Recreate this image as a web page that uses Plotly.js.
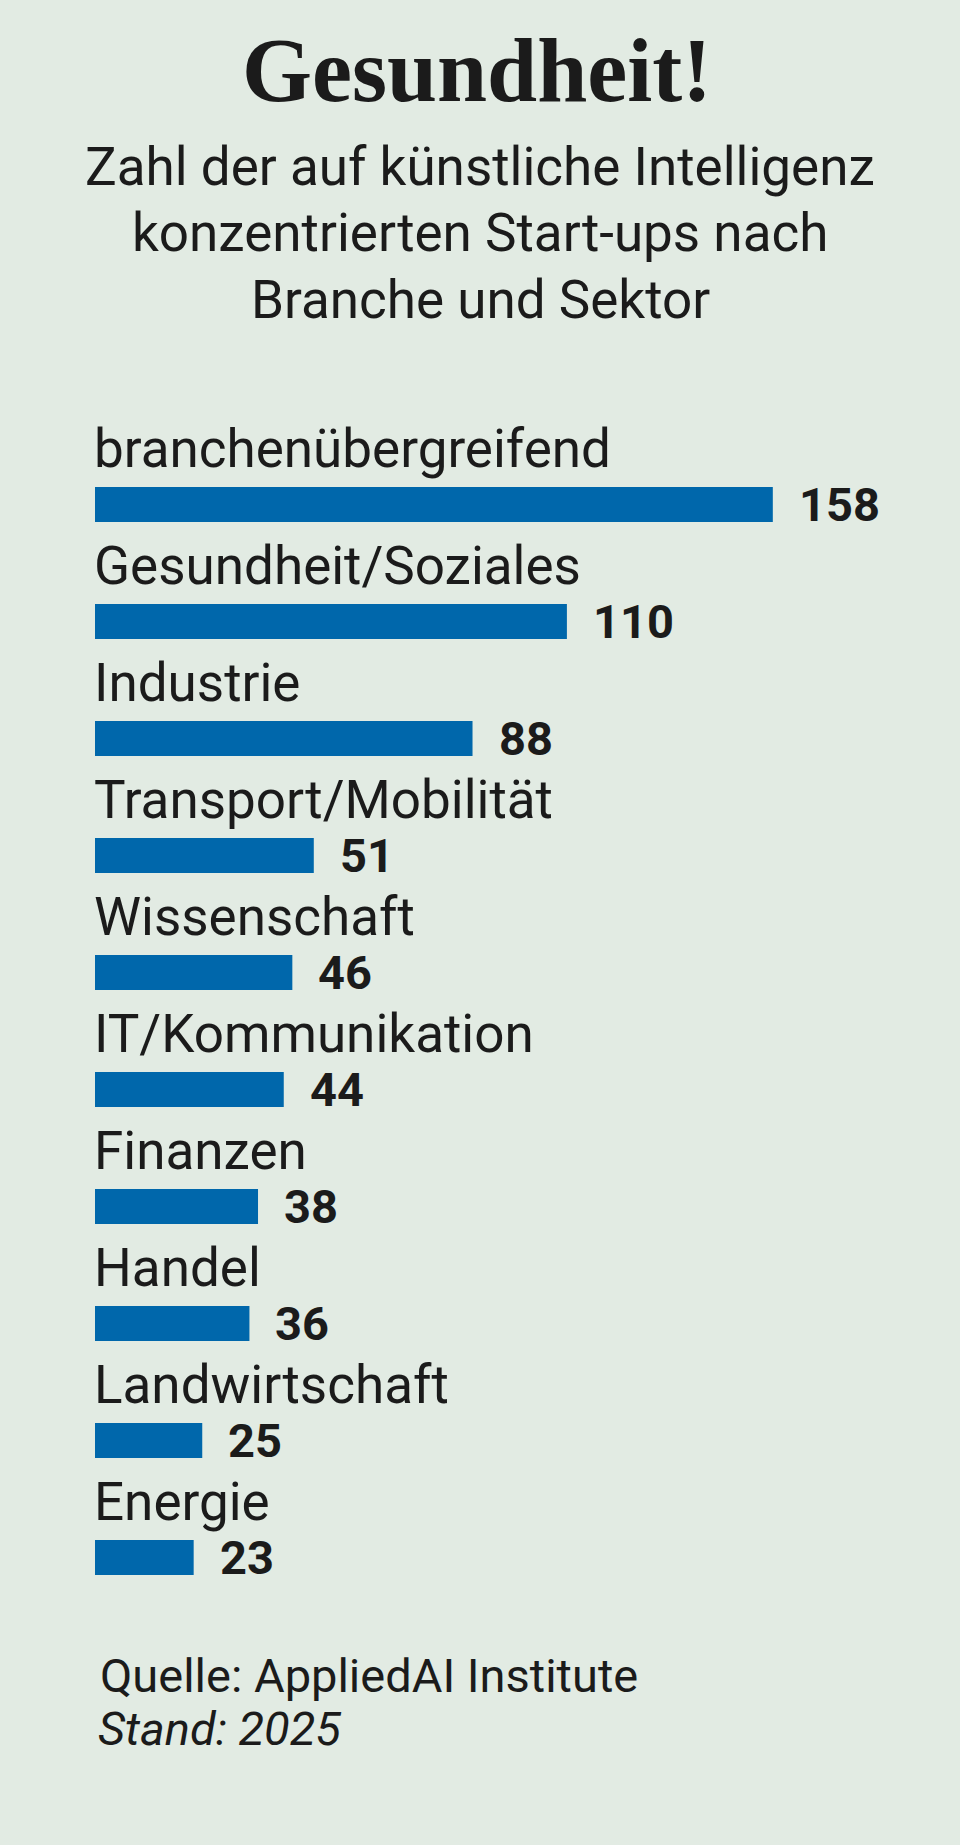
<!DOCTYPE html>
<html>
<head>
<meta charset="utf-8">
<script src="https://cdn.plot.ly/plotly-3.0.1.min.js"></script>
<style>
  html, body { margin: 0; padding: 0; background: #e2ebe3; }
  #chart { width: 960px; height: 1845px; }
</style>
</head>
<body>
<div id="chart"></div>
<script>
// ---- data ----
const categories = [
  "branchenübergreifend",
  "Gesundheit/Soziales",
  "Industrie",
  "Transport/Mobilität",
  "Wissenschaft",
  "IT/Kommunikation",
  "Finanzen",
  "Handel",
  "Landwirtschaft",
  "Energie"
];
const values = [158, 110, 88, 51, 46, 44, 38, 36, 25, 23];

const titleText = "Gesundheit!";
const subtitleLines = [
  "Zahl der auf künstliche Intelligenz",
  "konzentrierten Start-ups nach",
  "Branche und Sektor"
];
const sourceText = "Quelle: AppliedAI Institute";
const dateText = "Stand: 2025";

// ---- layout geometry ----
const W = 960, H = 1845;
const mL = 95, mR = 7, mT = 446, mB = 229;
const plotH = H - mT - mB;
const plotW = W - mL - mR;
const py = p => (H - mB - p) / plotH;   // pixel y -> paper y
const px = p => (p - mL) / plotW;       // pixel x -> paper x

const BG = "#e2ebe3";
const BAR = "#0067ab";
const INK = "#1b1b1b";
const SANS = "Roboto, 'DejaVu Sans', sans-serif";
const SERIF = "'Liberation Serif', 'DejaVu Serif', serif";

const annotations = [];

// title
annotations.push({
  xref: "paper", yref: "paper", x: px(477), y: py(70),
  xanchor: "center", yanchor: "middle", showarrow: false,
  text: "<b>" + titleText + "</b>",
  font: { family: SERIF, size: 90, color: INK }
});
// subtitle lines
const subCenters = [167, 233, 300];
subtitleLines.forEach((t, i) => {
  annotations.push({
    xref: "paper", yref: "paper", x: px(480), y: py(subCenters[i]),
    xanchor: "center", yanchor: "middle", showarrow: false,
    text: t, font: { family: SANS, size: 53, color: INK }
  });
});
// category labels above bars
categories.forEach((c, i) => {
  annotations.push({
    xref: "x", yref: "y", x: 0, y: c,
    xanchor: "left", yanchor: "middle", showarrow: false,
    xshift: -3, yshift: 56,
    text: c, font: { family: SANS, size: 53, color: INK }
  });
});
// value labels
categories.forEach((c, i) => {
  annotations.push({
    xref: "x", yref: "y", x: values[i], y: c,
    xanchor: "left", yanchor: "middle", showarrow: false,
    xshift: 24, yshift: 0,
    text: "<b>" + values[i] + "</b>", font: { family: SANS, size: 47, color: INK }
  });
});
// footer
annotations.push({
  xref: "paper", yref: "paper", x: px(98), y: py(1675),
  xanchor: "left", yanchor: "middle", showarrow: false,
  text: sourceText, font: { family: SANS, size: 47, color: INK }
});
annotations.push({
  xref: "paper", yref: "paper", x: px(96), y: py(1728),
  xanchor: "left", yanchor: "middle", showarrow: false,
  text: "<i>" + dateText + "</i>", font: { family: SANS, size: 47, color: INK }
});

const trace = {
  type: "bar",
  orientation: "h",
  x: values,
  y: categories,
  marker: { color: BAR, line: { width: 0 } },
  hoverinfo: "none"
};

const layout = {
  width: W, height: H,
  margin: { l: mL, r: mR, t: mT, b: mB, pad: 0 },
  paper_bgcolor: BG, plot_bgcolor: BG,
  showlegend: false,
  bargap: 0.7,
  xaxis: { range: [0, 200], visible: false, fixedrange: true },
  yaxis: { type: "category", range: [categories.length - 0.5, -0.5], autorange: false, visible: false, fixedrange: true },
  annotations: annotations
};

Plotly.newPlot("chart", [trace], layout, { staticPlot: true, displayModeBar: false });
</script>
</body>
</html>
